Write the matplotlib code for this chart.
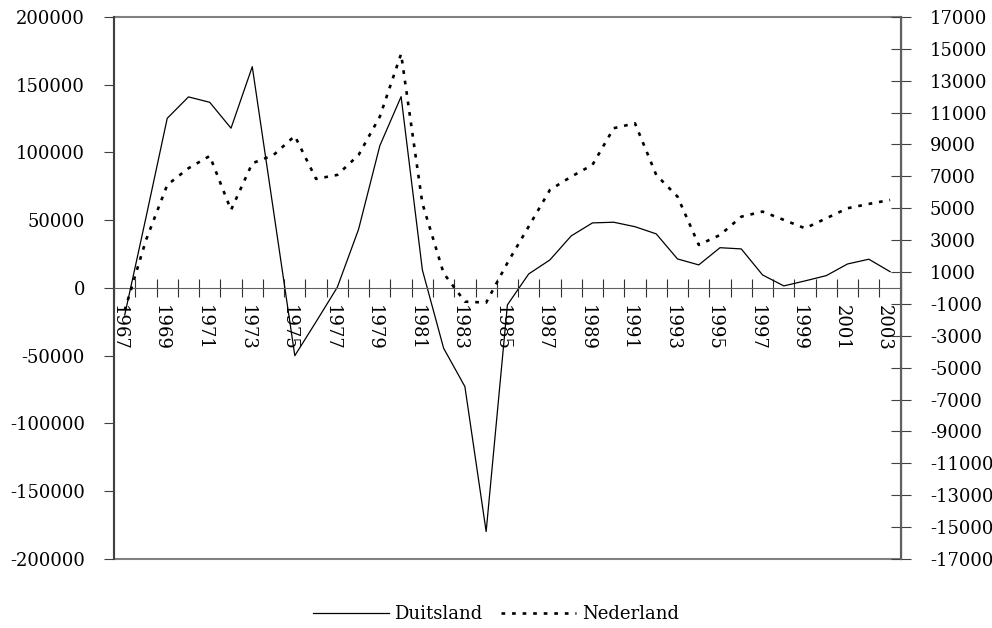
import numpy as np
import matplotlib
matplotlib.use('Agg')
import matplotlib.pyplot as plt
import matplotlib.transforms as mtransforms
from matplotlib.patches import Rectangle

years = list(range(1967, 2004))
duitsland = [-20000, 52000, 125200, 141000, 137000, 117900, 163300, 56800, -50000,
             -25000, 500, 43300, 105000, 141200, 13300, -44500, -72800, -179800,
             -12500, 10300, 20700, 38400, 48000, 48500, 45200, 39900, 21400,
             17000, 29700, 28800, 9600, 1500, 5200, 9100, 17700, 21200, 12000]
nederland = [-1400, 3000, 6460, 7510, 8280, 4890, 7820, 8340, 9535,
             6840, 7090, 8340, 10750, 14680, 5310, 920, -860, -920,
             1570, 3850, 6150, 6980, 7720, 10020, 10330, 7090, 5730,
             2700, 3320, 4470, 4790, 4270, 3740, 4370, 5000, 5270, 5520]
left_ticks = [-200000, -150000, -100000, -50000, 0, 50000, 100000, 150000, 200000]
right_ticks = list(range(-17000, 17001, 2000))

plt.rcParams['font.family'] = 'DejaVu Serif'
fig = plt.figure(figsize=(9.92, 6.28), dpi=100)
ax = fig.add_axes([0.115, 0.110, 0.793, 0.863])
ax2 = ax.twinx()

x = np.arange(len(years))
l1, = ax.plot(x, duitsland, color='black', lw=0.9, label='Duitsland')
l2, = ax2.plot(x, nederland, color='black', lw=1.9, linestyle=(0, (1.4, 2.6)), label='Nederland')

ax.set_xlim(-0.5, len(years) - 0.5)
ax.set_ylim(-200000, 200000)
ax2.set_ylim(-17000, 17000)
ax.set_yticks(left_ticks)
ax.set_yticklabels([str(v) for v in left_ticks], fontsize=13)
ax2.set_yticks(right_ticks)
ax2.set_yticklabels([str(v) for v in right_ticks], fontsize=13)

# x axis sits on the zero line
ax.spines['bottom'].set_position(('data', 0))
ax.spines['bottom'].set_color('#606060')
ax.set_xticks(np.arange(len(years) + 1) - 0.5, minor=False)
ax.set_xticklabels([])
ax.set_xticks(x[::2], minor=True)
ax.set_xticklabels([str(y) for y in years[::2]], minor=True, rotation=270,
                   fontsize=13, va='top', ha='center')
ax.tick_params(axis='x', which='major', direction='inout', length=13, color='#303030')
ax.tick_params(axis='x', which='minor', length=0, pad=12)
offset = mtransforms.ScaledTranslation(-6 / 100, 0, fig.dpi_scale_trans)
for lab in ax.get_xticklabels(minor=True):
    lab.set_transform(lab.get_transform() + offset)

ax.tick_params(axis='y', direction='out', length=7, color='#404040', pad=14)
ax2.tick_params(axis='y', direction='inout', length=14, color='#404040', pad=14)

for a in (ax, ax2):
    a.spines['top'].set_visible(False)
ax2.spines['bottom'].set_visible(False)
ax.spines['left'].set_color('#404040')
ax.spines['left'].set_linewidth(1.5)
ax2.spines['left'].set_visible(False)
ax2.spines['right'].set_color('#606060')
ax2.spines['right'].set_linewidth(1.5)
ax.add_patch(Rectangle((0, 0), 1, 1, transform=ax.transAxes, fill=False,
                       ec='#808080', lw=1.5, clip_on=False))

fig.legend([l1, l2], ['Duitsland', 'Nederland'], loc='lower center',
           bbox_to_anchor=(0.5, -0.018), ncol=2, frameon=False, fontsize=13,
           handlelength=4.2, handletextpad=0.3, columnspacing=1.0)

fig.savefig('out.png', dpi=100)
